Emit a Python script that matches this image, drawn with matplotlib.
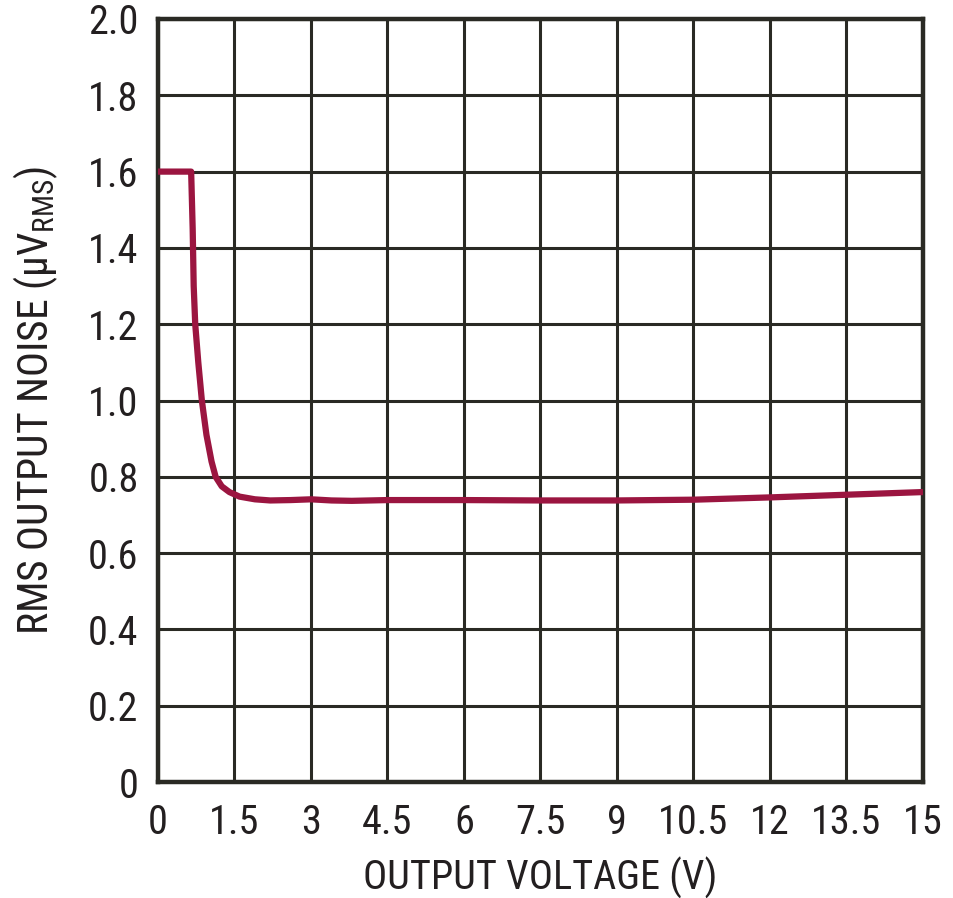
import numpy as np
import matplotlib
matplotlib.use("Agg")
from matplotlib import pyplot as plt

# curve (output voltage V, rms noise uV)
vout = [0.0, 0.60, 0.65, 0.68, 0.70, 0.73, 0.79, 0.86, 0.95, 1.05, 1.13,
        1.25, 1.40, 1.60, 1.90, 2.20, 2.60, 3.00, 3.40, 3.80, 4.50, 6.0,
        7.5, 9.0, 10.5, 12.0, 13.5, 15.0]
noise = [1.60, 1.60, 1.60, 1.45, 1.30, 1.20, 1.10, 1.00, 0.91, 0.84, 0.80,
         0.775, 0.76, 0.748, 0.741, 0.738, 0.739, 0.741, 0.738, 0.737, 0.739, 0.739,
         0.738, 0.738, 0.740, 0.746, 0.753, 0.760]

xticks = [0, 1.5, 3, 4.5, 6, 7.5, 9, 10.5, 12, 13.5, 15]
xlabels = ["0", "1.5", "3", "4.5", "6", "7.5", "9", "10.5", "12", "13.5", "15"]
yticks = [0, 0.2, 0.4, 0.6, 0.8, 1.0, 1.2, 1.4, 1.6, 1.8, 2.0]
ylabels = ["0", "0.2", "0.4", "0.6", "0.8", "1.0", "1.2", "1.4", "1.6", "1.8", "2.0"]

plt.rcParams['font.family'] = ['Roboto Condensed', 'Liberation Sans', 'DejaVu Sans']
plt.rcParams['mathtext.fontset'] = 'custom'
plt.rcParams['mathtext.rm'] = 'Roboto Condensed'

grid_col = "#2a2a24"
txt_col = "#231f20"
fig = plt.figure(figsize=(9.54, 8.98), dpi=100)
ax = fig.add_axes([158/954, 1-782/898, 765/954, 763/898])

ax.plot(vout, noise, color="#9b1540", lw=4.5, solid_joinstyle="round",
        solid_capstyle="butt", zorder=3)

ax.set_xlim(0, 15)
ax.set_ylim(0, 2.0)
ax.set_xticks(xticks)
ax.set_xticklabels(xlabels)
ax.set_yticks(yticks)
ax.set_yticklabels(ylabels)
ax.grid(True, color=grid_col, lw=2.2)
ax.tick_params(length=0, labelsize=29, colors=txt_col)
ax.tick_params(axis="x", pad=15)
ax.tick_params(axis="y", pad=14)
for s in ax.spines.values():
    s.set_color(grid_col)
    s.set_linewidth(3.2)

ax.set_xlabel("OUTPUT VOLTAGE (V)", fontsize=29, color=txt_col, labelpad=11)
ax.set_ylabel(r"RMS OUTPUT NOISE (μV$_{\mathregular{RMS}}$)", fontsize=30,
              color=txt_col, labelpad=20)

fig.savefig("out.png", dpi=100)
